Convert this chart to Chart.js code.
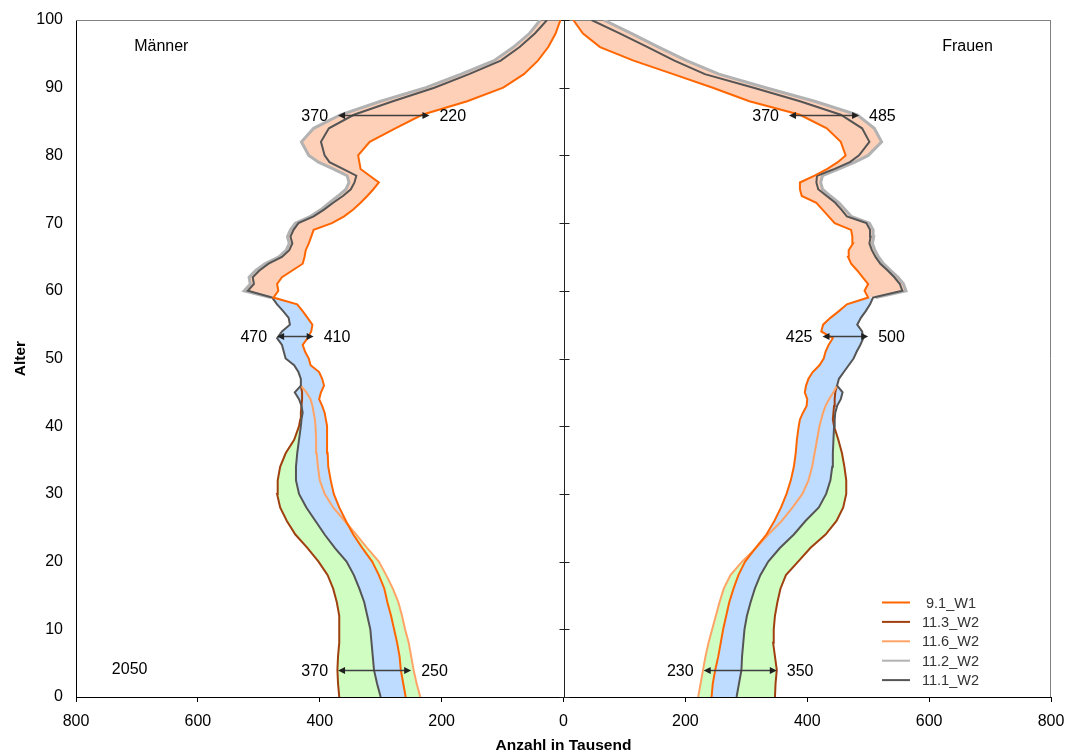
<!DOCTYPE html>
<html>
<head>
<meta charset="utf-8">
<title>Bevölkerungsaufbau 2050</title>
<script src="https://cdn.jsdelivr.net/npm/chart.js@4.4.1/dist/chart.umd.min.js"></script>
<style>
  html, body { margin: 0; padding: 0; background: #ffffff; }
  #wrap { width: 1066px; height: 755px; }
</style>
</head>
<body>
<div id="wrap"><canvas id="pyramid" width="1066" height="755"></canvas></div>
<script>
// Altersjahre (shared age grid; yearly steps where the curves are jagged)
const AGES = [0,2,4,6,8,10,12,14,16,18,20,22,24,26,28,30,32,34,36,38,40,
  41,42,43,44,45,46,47,48,49,50,51,52,53,54,55,56,57,58,59,60,
  61,62,63,64,65,66,67,68,69,70,71,72,73,74,75,76,77,78,79,80,
  82,84,86,88,90,92,94,96,98,100];
const AGES_YOUNG = AGES.filter(a => a <= 46);   // 11.3_W2 / 11.6_W2 differ only here
const AGES_OLD = AGES.filter(a => a >= 59);     // 11.2_W2 differs only here
const AGES_BLUE = AGES.filter(a => a <= 59);

const SERIES = ['9.1_W1', '11.3_W2', '11.6_W2', '11.2_W2', '11.1_W2'];

// Männer, Anzahl in Tausend
const M_9_1 = [259,263,267,269,273,278,283,289,294,303,314,330,345,357,368,377,382,386,387,388,388,
  390,392,396,401,398,393,396,401,415,418,424,428,420,414,412,420,428,437,476,468,
  470,462,445,428,425,423,418,414,410,380,360,345,333,322,312,303,318,333,335,337,
  318,276,232,158,99,65,42,25,13,5];
const M_11_1 = [300,306,311,313,315,317,322,327,335,344,356,375,392,407,422,434,439,439,437,434,431,
  430,428,430,434,441,431,431,435,442,456,459,462,470,462,449,451,460,470,478,518,
  508,510,499,484,462,450,445,448,443,435,410,393,378,362,349,343,340,362,384,392,
  398,385,344,280,212,155,103,72,47,27];
const M_11_2 = [480,524,514,516,505,490,467,455,450,453,448,440,415,398,384,370,357,352,355,378,402,418,
  430,410,366,300,226,168,114,82,56,38];
const M_11_3 = [368,370,371,370,368,368,368,372,378,387,402,420,440,454,465,470,469,465,456,442,434,
  432,431,430,429,429,431];
const M_11_6 = [235,241,246,250,254,260,265,271,280,291,303,322,340,359,378,392,400,403,405,406,407,
  408,410,412,415,422,431];

// Frauen, Anzahl in Tausend
const W_9_1 = [243,245,249,254,258,262,267,272,279,287,298,315,333,346,357,366,373,378,381,383,386,
  388,393,399,400,396,398,402,409,420,427,430,435,442,423,426,438,452,465,500,494,
  500,491,482,472,467,468,475,474,472,445,435,425,415,391,388,388,412,433,450,463,
  455,432,388,305,245,180,115,60,32,16];
const W_11_1 = [284,288,292,293,295,297,301,307,314,323,336,355,378,397,419,431,438,441,442,443,444,
  445,446,449,455,458,449,452,460,468,476,481,487,492,490,482,488,496,503,508,556,
  552,543,532,520,512,506,502,504,503,497,465,456,446,432,418,415,416,445,470,485,
  502,490,455,388,312,232,182,138,93,46];
const W_11_2 = [512,562,558,549,537,525,517,511,507,509,508,502,472,462,452,438,425,422,425,452,478,500,
  522,510,482,412,332,255,202,156,112,66];
const W_11_3 = [347,348,350,347,344,345,347,351,356,365,385,405,430,448,459,464,464,461,457,451,444,
  442,443,444,445,446,449];
const W_11_6 = [221,225,229,233,238,244,250,256,263,274,293,316,336,358,376,392,402,408,412,416,420,
  423,426,430,436,443,449];

// Differenzpfeile: Alter, linker und rechter Wert
const ARROW_SIDE = ['M', 'M', 'M', 'W', 'W', 'W'];
const ARROW_AGE = [86, 53.3, 4, 86, 53.3, 4];
const ARROW_LEFT = [370, 470, 370, 370, 425, 230];
const ARROW_RIGHT = [220, 410, 250, 485, 500, 350];

const NOTES = [
  { text: 'Männer', x: -660, y: 96 },
  { text: 'Frauen', x: 663, y: 96 },
  { text: '2050', x: -712, y: 4 }
];

const COLORS = {
  '9.1_W1': '#ff6600',
  '11.3_W2': '#a0400f',
  '11.6_W2': '#ffa366',
  '11.2_W2': '#b2b2b2',
  '11.1_W2': '#555555'
};
const WIDTHS = { '9.1_W1': 2, '11.3_W2': 2, '11.6_W2': 2, '11.2_W2': 3, '11.1_W2': 2 };
const FILL_PEACH = '#ffd0b8';
const FILL_BLUE = '#bedcff';
const FILL_GREEN = '#d0fdc2';

const FONT = "'Liberation Sans', Arial, Helvetica, sans-serif";
Chart.defaults.font.family = FONT;
Chart.defaults.font.size = 16;
Chart.defaults.color = '#000';

function points(ages, values, sign) {
  return ages.map((a, i) => ({ x: sign * values[i], y: a }));
}
function lineSet(name, data) {
  return {
    label: name, data, borderColor: COLORS[name], backgroundColor: COLORS[name],
    borderWidth: WIDTHS[name], pointRadius: 0, pointHoverRadius: 0, fill: false, tension: 0
  };
}
function fillSet(data, target, color) {
  return {
    label: '', data, borderWidth: 0, borderColor: 'rgba(0,0,0,0)', backgroundColor: color,
    pointRadius: 0, pointHoverRadius: 0, tension: 0,
    fill: { target, above: color, below: color }
  };
}

const mOrange = points(AGES, M_9_1, -1), wOrange = points(AGES, W_9_1, 1);
const mDark = points(AGES, M_11_1, -1), wDark = points(AGES, W_11_1, 1);
const mGrey = points(AGES_OLD, M_11_2, -1), wGrey = points(AGES_OLD, W_11_2, 1);
const mLight = points(AGES_YOUNG, M_11_6, -1), wLight = points(AGES_YOUNG, W_11_6, 1);
const mBrown = points(AGES_YOUNG, M_11_3, -1), wBrown = points(AGES_YOUNG, W_11_3, 1);
const mBlue = points(AGES_BLUE, M_11_1.slice(0, AGES_BLUE.length), -1);
const wBlue = points(AGES_BLUE, W_11_1.slice(0, AGES_BLUE.length), 1);

// index 0 is drawn last (on top); fills are painted from the last index down
const datasets = [
  lineSet('9.1_W1', mOrange),   // 0
  lineSet('9.1_W1', wOrange),   // 1
  lineSet('11.1_W2', mDark),    // 2
  lineSet('11.1_W2', wDark),    // 3
  lineSet('11.2_W2', mGrey),    // 4
  lineSet('11.2_W2', wGrey),    // 5
  lineSet('11.6_W2', mLight),   // 6
  lineSet('11.6_W2', wLight),   // 7
  lineSet('11.3_W2', mBrown),   // 8
  lineSet('11.3_W2', wBrown),   // 9
  fillSet(mGrey, 0, FILL_PEACH),
  fillSet(wGrey, 1, FILL_PEACH),
  fillSet(mBlue, 0, FILL_BLUE),
  fillSet(wBlue, 1, FILL_BLUE),
  fillSet(mBrown, 6, FILL_GREEN),
  fillSet(wBrown, 7, FILL_GREEN)
];

function arrowHead(ctx, tipX, y, dir) {
  ctx.beginPath();
  ctx.moveTo(tipX, y);
  ctx.lineTo(tipX - dir * 7, y - 3.5);
  ctx.lineTo(tipX - dir * 7, y + 3.5);
  ctx.closePath();
  ctx.fill();
}

const decor = {
  id: 'decor',
  beforeDatasetsDraw(chart) {
    const { ctx, chartArea: a, scales: { x, y } } = chart;
    ctx.save();
    ctx.lineWidth = 1;
    ctx.strokeStyle = '#808080';
    ctx.beginPath();
    ctx.moveTo(a.left, a.top + 0.5);
    ctx.lineTo(a.right, a.top + 0.5);
    ctx.moveTo(a.right - 0.5, a.top);
    ctx.lineTo(a.right - 0.5, a.bottom);
    ctx.stroke();
    // Mittelachse mit Teilstrichen
    const x0 = Math.round(x.getPixelForValue(0)) + 0.5;
    ctx.strokeStyle = '#222';
    ctx.beginPath();
    ctx.moveTo(x0, a.top);
    ctx.lineTo(x0, a.bottom);
    y.ticks.forEach(t => {
      const py = Math.round(y.getPixelForValue(t.value)) + 0.5;
      ctx.moveTo(x0 - 5, py);
      ctx.lineTo(x0 + 5, py);
    });
    ctx.stroke();
    ctx.restore();
  },
  afterDatasetsDraw(chart) {
    const { ctx, chartArea: a, scales: { x, y } } = chart;
    ctx.save();
    // Differenzpfeile
    ctx.font = '16px ' + FONT;
    ctx.textBaseline = 'middle';
    ARROW_AGE.forEach((age, i) => {
      const sign = ARROW_SIDE[i] === 'M' ? -1 : 1;
      const xl = x.getPixelForValue(sign * ARROW_LEFT[i]);
      const xr = x.getPixelForValue(sign * ARROW_RIGHT[i]);
      const left = Math.min(xl, xr), right = Math.max(xl, xr);
      const py = Math.round(y.getPixelForValue(age)) + 0.5;
      ctx.strokeStyle = '#404040';
      ctx.fillStyle = '#202020';
      ctx.lineWidth = 1.5;
      ctx.beginPath();
      ctx.moveTo(left + 3, py);
      ctx.lineTo(right - 3, py);
      ctx.stroke();
      arrowHead(ctx, left, py, -1);
      arrowHead(ctx, right, py, 1);
      ctx.fillStyle = '#000';
      ctx.textAlign = 'right';
      ctx.fillText(String(ARROW_LEFT[i]), left - 10, py + 1);
      ctx.textAlign = 'left';
      ctx.fillText(String(ARROW_RIGHT[i]), right + 10, py + 1);
    });
    // Beschriftungen im Diagramm
    ctx.textAlign = 'center';
    NOTES.forEach(n => {
      ctx.fillText(n.text, x.getPixelForValue(n.x), y.getPixelForValue(n.y));
    });
    // Legende
    ctx.font = '14.5px ' + FONT;
    ctx.textAlign = 'left';
    SERIES.forEach((name, i) => {
      const py = a.bottom - 94.5 + i * 19.4;
      ctx.strokeStyle = COLORS[name];
      ctx.lineWidth = 2;
      ctx.beginPath();
      ctx.moveTo(a.right - 169, py);
      ctx.lineTo(a.right - 141, py);
      ctx.stroke();
      ctx.fillStyle = '#333';
      ctx.fillText(name.padStart(7, ' '), a.right - 129, py + 1);
    });
    ctx.restore();
  }
};

new Chart(document.getElementById('pyramid'), {
  type: 'line',
  data: { datasets },
  options: {
    indexAxis: 'y',
    responsive: false,
    animation: false,
    events: [],
    layout: { padding: { top: 20, right: 15, left: 0, bottom: 0 } },
    plugins: {
      legend: { display: false },
      tooltip: { enabled: false },
      filler: { drawTime: 'beforeDatasetsDraw' }
    },
    scales: {
      x: {
        type: 'linear', position: 'bottom', min: -800, max: 800,
        ticks: { stepSize: 200, padding: 10, maxRotation: 0, color: '#000',
                 font: { size: 16 }, callback: v => String(Math.abs(v)) },
        grid: { display: true, drawOnChartArea: false, drawTicks: true, tickLength: 5,
                color: '#000', tickColor: '#000' },
        border: { display: true, color: '#000', width: 1 },
        title: { display: true, text: 'Anzahl in Tausend', color: '#000',
                 font: { size: 15.5, weight: 'bold' }, padding: { top: 0, bottom: 0 } },
        afterFit: s => { s.height = 58; s.paddingLeft = 0; s.paddingRight = 0; }
      },
      y: {
        type: 'linear', position: 'left', min: 0, max: 100,
        ticks: { stepSize: 10, padding: 13, color: '#000', font: { size: 16 } },
        grid: { display: false, drawTicks: false },
        border: { display: true, color: '#000', width: 1 },
        title: { display: true, text: 'Alter', color: '#000',
                 font: { size: 15.5, weight: 'bold' }, padding: { top: 11, bottom: 0 } },
        afterFit: s => { s.width = 76; s.paddingTop = 0; s.paddingBottom = 0; }
      }
    }
  },
  plugins: [decor]
});
</script>
</body>
</html>
